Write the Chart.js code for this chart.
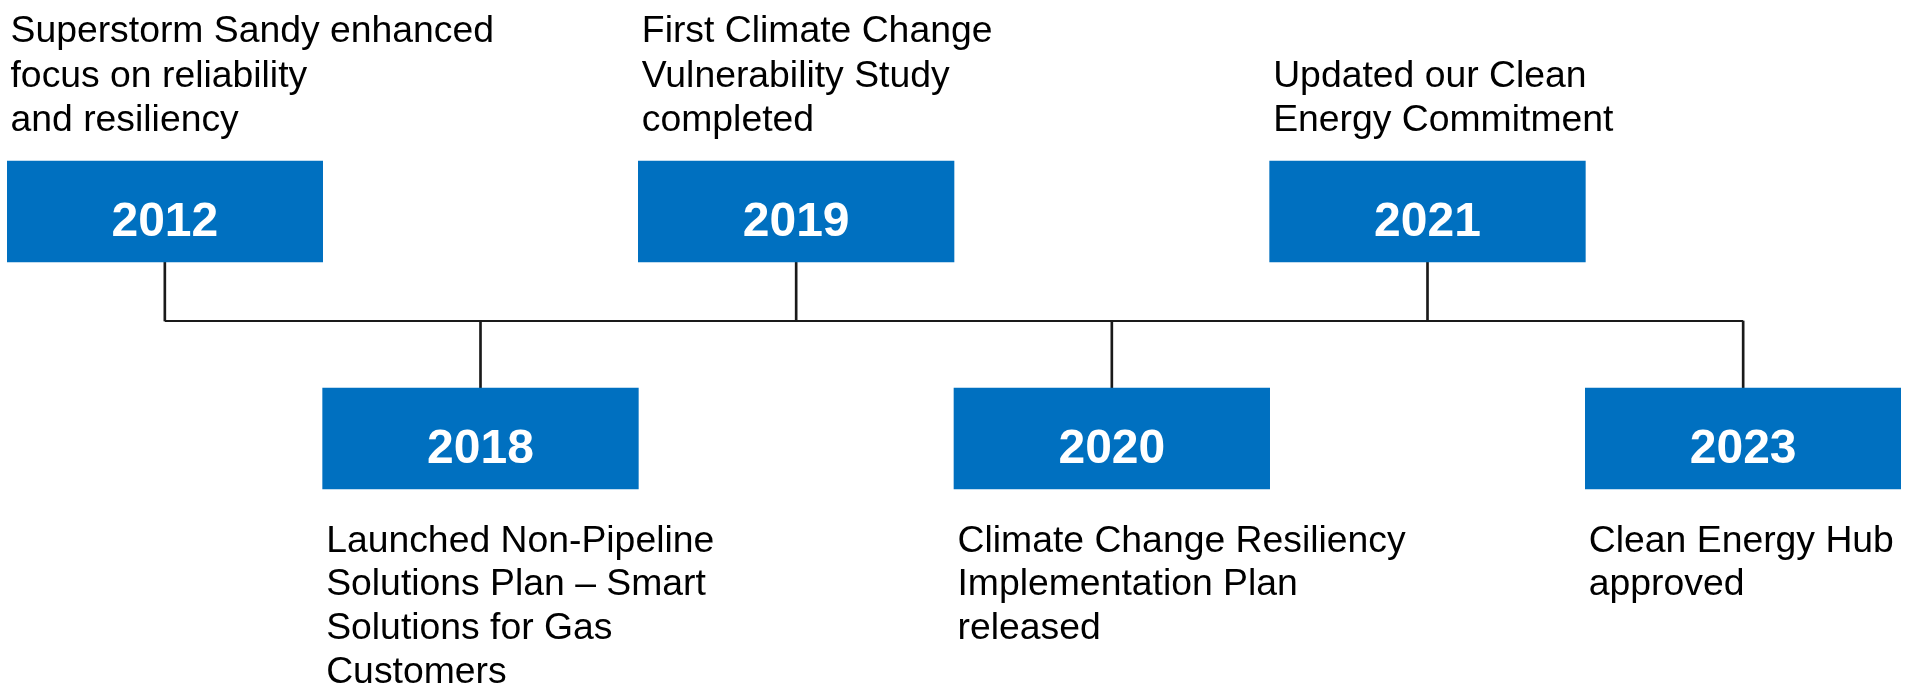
<!DOCTYPE html>
<html>
<head>
<meta charset="utf-8">
<script src="https://cdn.jsdelivr.net/npm/chart.js@4/dist/chart.umd.min.js"></script>
<style>
  html, body { margin: 0; padding: 0; background: #ffffff; }
  #wrap { width: 1911px; height: 688px; position: relative; }
</style>
</head>
<body>
<div id="wrap"><canvas id="c"></canvas></div>
<script>
// ---- data ----
const years = ['2012', '2018', '2019', '2020', '2021', '2023'];
const sides = ['top', 'bottom', 'top', 'bottom', 'top', 'bottom'];
const descriptions = [
  ['Superstorm Sandy enhanced', 'focus on reliability', 'and resiliency'],
  ['Launched Non-Pipeline', 'Solutions Plan \u2013 Smart', 'Solutions for Gas', 'Customers'],
  ['First Climate Change', 'Vulnerability Study', 'completed'],
  ['Climate Change Resiliency', 'Implementation Plan', 'released'],
  ['Updated our Clean', 'Energy Commitment'],
  ['Clean Energy Hub', 'approved']
];

// ---- layout (vertical scale runs 0..688 top-down) ----
const LAYOUT = {
  lineLevel: 321,
  topBox: [161, 262],
  bottomBox: [388, 489]
};
const BLUE = '#0070C0';
const INK = '#1a1a1a';
const FONT = '"Liberation Sans", Arial, Helvetica, sans-serif';

const boxData = sides.map(s => s === 'top' ? LAYOUT.topBox.slice() : LAYOUT.bottomBox.slice());
const stemData = sides.map(s => s === 'top'
  ? [LAYOUT.topBox[1], LAYOUT.lineLevel]
  : [LAYOUT.lineLevel, LAYOUT.bottomBox[0]]);
const lineData = years.map(() => LAYOUT.lineLevel);

const textPlugin = {
  id: 'timelineText',
  afterDatasetsDraw(chart) {
    const ctx = chart.ctx;
    const meta = chart.getDatasetMeta(0);
    ctx.save();
    meta.data.forEach((el, i) => {
      const props = el.getProps(['x', 'y', 'base', 'width'], true);
      const top = Math.min(props.y, props.base);
      const bottom = Math.max(props.y, props.base);
      const left = props.x - props.width / 2;
      // year label
      ctx.fillStyle = '#ffffff';
      ctx.font = 'bold 48px ' + FONT;
      ctx.textAlign = 'center';
      ctx.textBaseline = 'alphabetic';
      ctx.fillText(years[i], props.x, top + 75);
      // description
      ctx.fillStyle = '#000000';
      ctx.font = '37.33px ' + FONT;
      ctx.textAlign = 'left';
      const lines = descriptions[i];
      if (sides[i] === 'top') {
        const lh = 44.3;
        const lastBase = top - 30;
        lines.forEach((t, k) => {
          ctx.fillText(t, left + 3.5, lastBase - (lines.length - 1 - k) * lh);
        });
      } else {
        const lh = 43.6;
        const firstBase = bottom + 62.7;
        lines.forEach((t, k) => {
          ctx.fillText(t, left + 3.5, firstBase + k * lh);
        });
      }
    });
    ctx.restore();
  }
};

new Chart(document.getElementById('c'), {
  type: 'bar',
  data: {
    labels: years,
    datasets: [
      {
        label: 'Milestones',
        data: boxData,
        backgroundColor: BLUE,
        borderWidth: 0,
        barPercentage: 1,
        categoryPercentage: 1,
        grouped: false,
        order: 1
      },
      {
        label: 'Stems',
        data: stemData,
        backgroundColor: INK,
        borderWidth: 0,
        barThickness: 2,
        grouped: false,
        order: 2
      },
      {
        type: 'line',
        label: 'Timeline',
        data: lineData,
        borderColor: INK,
        borderWidth: 2,
        pointRadius: 0,
        fill: false,
        tension: 0,
        order: 3
      }
    ]
  },
  options: {
    responsive: true,
    maintainAspectRatio: false,
    devicePixelRatio: 1,
    animation: false,
    events: [],
    layout: { padding: { left: 7, right: 10, top: 0, bottom: 0 } },
    plugins: {
      legend: { display: false },
      tooltip: { enabled: false },
      title: { display: false }
    },
    scales: {
      x: { type: 'category', display: false, offset: true, grid: { display: false } },
      y: { type: 'linear', display: false, min: 0, max: 688, reverse: true, grid: { display: false } }
    }
  },
  plugins: [textPlugin]
});
</script>
</body>
</html>
